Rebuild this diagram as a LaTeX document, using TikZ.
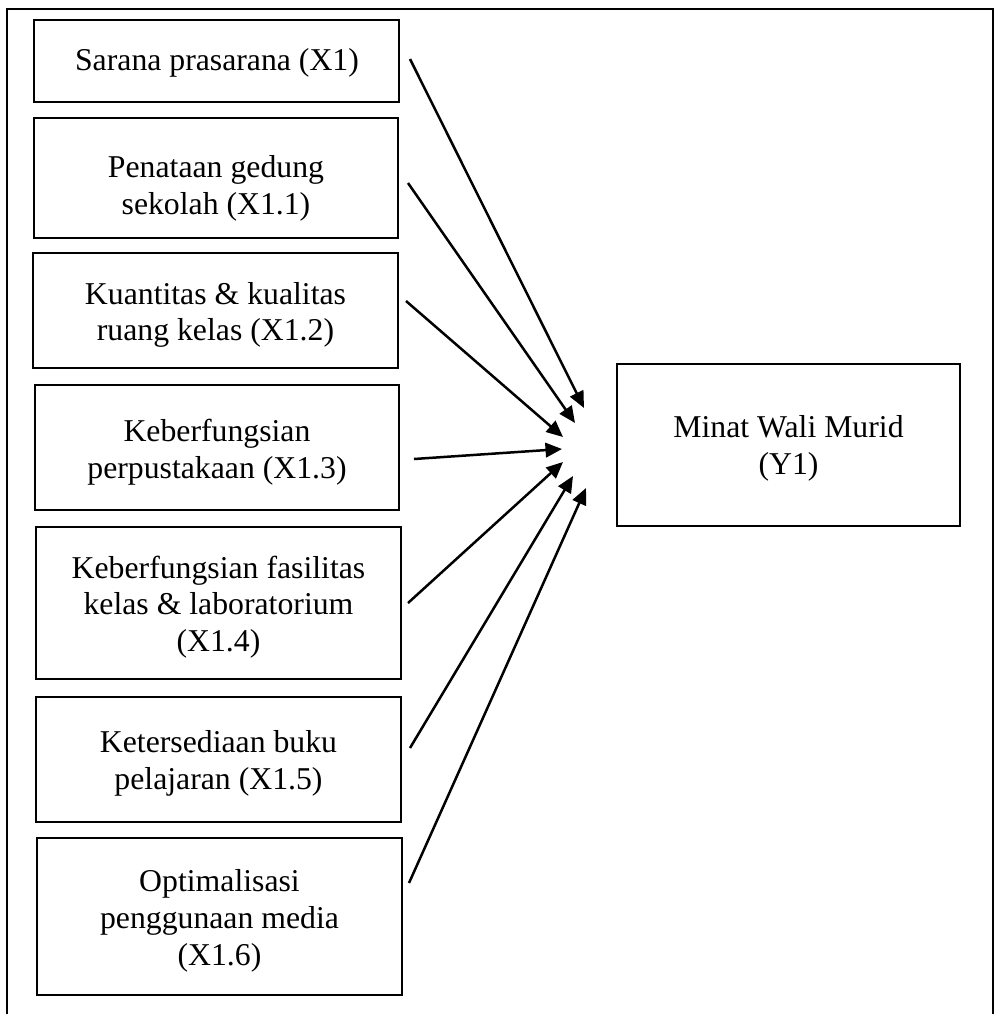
\documentclass[tikz,border=0pt]{standalone}
\usepackage{fontspec}
\setmainfont{Liberation Serif}
\usetikzlibrary{arrows.meta}
\begin{document}
\begin{tikzpicture}[x=0.4pt,y=-0.4pt,
  boxnode/.style={draw,line width=1pt,rectangle,inner sep=0pt},
  lbl/.style={align=center,inner sep=0pt,font=\fontsize{12.7}{14.7}\selectfont},
  arr/.style={line width=1pt,-{Triangle[length=6.6pt,width=5.8pt]}},
  frame/.style={line width=0.9pt}]
\useasboundingbox (0,0) rectangle (996,1014);
\draw[frame] (7,1016) -- (7,9) -- (993,9) -- (993,1016);
% boxes
\node[boxnode,minimum width=146pt,minimum height=32.8pt] (b1) at (216.5,61) {};
\node[boxnode,minimum width=145.6pt,minimum height=48pt] (b2) at (216,178) {};
\node[boxnode,minimum width=146pt,minimum height=46pt] (b3) at (215.5,310.5) {};
\node[boxnode,minimum width=145.6pt,minimum height=50pt] (b4) at (217,447.5) {};
\node[boxnode,minimum width=146pt,minimum height=60.8pt] (b5) at (218.5,603) {};
\node[boxnode,minimum width=146pt,minimum height=50pt] (b6) at (218.5,759.5) {};
\node[boxnode,minimum width=146pt,minimum height=62.8pt] (b7) at (219.5,916.5) {};
\node[boxnode,minimum width=137.2pt,minimum height=64.8pt] (by) at (788.5,445) {};
% texts
\node[lbl] (t1) at (217,63) {Sarana prasarana (X1)};
\node[lbl] (t2) at (216,188) {Penataan gedung\\sekolah (X1.1)};
\node[lbl] (t3) at (215.5,315) {Kuantitas \& kualitas\\ruang kelas (X1.2)};
\node[lbl] (t4) at (217,452) {Keberfungsian\\perpustakaan (X1.3)};
\node[lbl] (t5) at (218.5,607) {Keberfungsian fasilitas\\kelas \& laboratorium\\(X1.4)};
\node[lbl] (t6) at (218.5,763.5) {Ketersediaan buku\\pelajaran (X1.5)};
\node[lbl] (t7) at (219.5,921) {Optimalisasi\\penggunaan media\\(X1.6)};
\node[lbl] (ty) at (788.5,448.5) {Minat Wali Murid\\(Y1)};
% arrow end points
\coordinate (s1) at (410,59);  \coordinate (e1) at (584,408);
\coordinate (s2) at (408,183); \coordinate (e2) at (575,423);
\coordinate (s3) at (406,301); \coordinate (e3) at (563,437);
\coordinate (s4) at (414,459); \coordinate (e4) at (562,449);
\coordinate (s5) at (408,603); \coordinate (e5) at (563,462);
\coordinate (s6) at (410,748); \coordinate (e6) at (573,476);
\coordinate (s7) at (409,883); \coordinate (e7) at (586,488);
\draw[arr] (s1) -- (e1);
\draw[arr] (s2) -- (e2);
\draw[arr] (s3) -- (e3);
\draw[arr] (s4) -- (e4);
\draw[arr] (s5) -- (e5);
\draw[arr] (s6) -- (e6);
\draw[arr] (s7) -- (e7);
\end{tikzpicture}
\end{document}
